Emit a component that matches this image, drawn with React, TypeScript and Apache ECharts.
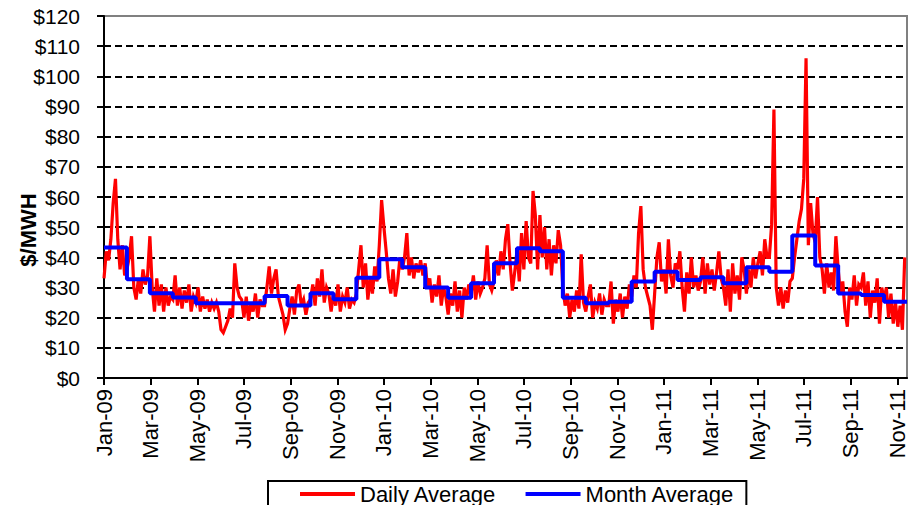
import React, { useEffect, useRef } from "react";
import * as echarts from "echarts";

// Month-start tick labels, one every 60 data points
const tickLabels = [
  "Jan-09", "Mar-09", "May-09", "Jul-09", "Sep-09", "Nov-09",
  "Jan-10", "Mar-10", "May-10", "Jul-10", "Sep-10", "Nov-10",
  "Jan-11", "Mar-11", "May-11", "Jul-11", "Sep-11", "Nov-11",
];
const tickStep = 60; // data points between two tick labels
const pointsPerMonth = 29.5; // data points in one month on the category scale
const samplesPerMonth = 10; // daily samples read per month

// Daily Average ($/MWh), 10 samples per month
const daily2009 = [
  33, 42, 39, 46, 58, 66, 46, 36, 44, 34,
  36, 40, 47, 30, 26, 33, 28, 36, 31, 34,
  47, 30, 22, 33, 24, 31, 22, 30, 24, 27,
  26, 34, 24, 30, 23, 29, 25, 31, 22, 27,
  25, 30, 22, 27, 23, 26, 22, 25, 23, 25,
  22, 16, 15, 17, 19, 23, 20, 38, 30, 27,
  26, 20, 27, 19, 25, 22, 28, 20, 26, 24,
  24, 30, 37, 28, 33, 36, 27, 24, 21, 16,
  18, 23, 27, 21, 29, 31, 24, 26, 21, 25,
  26, 31, 24, 33, 27, 36, 25, 30, 28, 22,
  28, 24, 31, 22, 27, 25, 30, 23, 26, 25,
  28, 36, 44, 30, 38, 26, 33, 28, 37, 32,
];
const daily2010 = [
  44, 59, 50, 42, 33, 28, 36, 27, 32, 40,
  36, 40, 48, 34, 40, 33, 38, 35, 39, 34,
  38, 30, 33, 25, 31, 27, 34, 24, 30, 27,
  21, 28, 24, 32, 22, 29, 20, 30, 26, 31,
  28, 34, 26, 32, 28, 30, 33, 44, 31, 29,
  32, 39, 34, 42, 36, 46, 51, 38, 29, 35,
  42, 32, 48, 36, 52, 40, 38, 62, 54, 36,
  54, 40, 50, 36, 46, 34, 44, 38, 49, 44,
  30, 24, 28, 20, 26, 22, 29, 23, 41, 25,
  22, 27, 31, 20, 25, 23, 28, 21, 26, 24,
  24, 32, 18, 26, 22, 28, 20, 27, 23, 31,
  27, 34, 30, 48, 57, 36, 30, 27, 24, 16,
];
const daily2011 = [
  28, 40, 45, 32, 36, 28, 46, 34, 30, 38,
  36, 42, 30, 22, 35, 28, 40, 30, 34, 29,
  32, 40, 28, 38, 31, 36, 29, 35, 42, 33,
  30, 24, 36, 22, 38, 28, 34, 26, 40, 36,
  28, 36, 30, 40, 33, 38, 42, 34, 46, 40,
  40, 51, 89, 30, 24, 30, 23, 29, 25, 32,
  33, 40, 46, 52, 56, 66, 106, 44, 58, 48,
  45, 60, 40, 36, 28, 38, 30, 35, 29, 47,
  36, 28, 32, 22, 17, 30, 26, 34, 24, 31,
  30, 35, 24, 32, 20, 29, 25, 33, 18, 30,
  26, 30, 20, 28, 18, 25, 17, 24, 16, 40,
];

// Month Average ($/MWh), Jan-09 .. Nov-11
const monthAvg2009 = [43.3, 32.7, 28.1, 26.7, 24.8, 24.8, 24.8, 27.2, 24.0, 28.1, 26.1, 33.2];
const monthAvg2010 = [39.4, 36.7, 30.0, 26.6, 31.4, 38.0, 43.0, 42.0, 26.6, 24.8, 25.3, 32.0];
const monthAvg2011 = [35.2, 32.5, 33.4, 31.4, 36.7, 35.2, 47.2, 37.3, 28.0, 27.5, 25.3];

const FONT = "'Liberation Sans', Arial, sans-serif";

export default function App() {
  const ref = useRef<HTMLDivElement>(null);

  useEffect(() => {
    document.body.style.margin = "0";
    if (!ref.current) return;
    const chart = echarts.init(ref.current, undefined, { renderer: "svg" });

    const daily = [...daily2009, ...daily2010, ...daily2011];
    const months = [...monthAvg2009, ...monthAvg2010, ...monthAvg2011];
    const xMax = months.length * pointsPerMonth;

    const dailyData = daily.map((v, i) => [(i * pointsPerMonth) / samplesPerMonth, v]);
    const monthData = months.map((v, m) => [m * pointsPerMonth, v]);
    monthData.push([xMax, months[months.length - 1]]);

    const tickValues = tickLabels.map((_, i) => i * tickStep);

    chart.setOption({
      animation: false,
      backgroundColor: "#fff",
      textStyle: { fontFamily: FONT },
      grid: {
        left: 104,
        right: 11,
        top: 16,
        bottom: 127,
        containLabel: false,
        outerBoundsMode: "none",
        show: true,
        borderColor: "#808080",
        borderWidth: 2,
      },
      xAxis: {
        type: "value",
        min: 0,
        max: xMax,
        interval: tickStep,
        axisLine: { show: true, onZero: false, lineStyle: { color: "#000", width: 2 } },
        axisTick: {
          show: true,
          length: 7,
          lineStyle: { color: "#000", width: 2 },
          customValues: tickValues,
        },
        axisLabel: {
          customValues: tickValues,
          rotate: 90,
          margin: 11,
          fontSize: 22,
          color: "#000",
          fontFamily: FONT,
          formatter: (v: number) => tickLabels[Math.round(v / tickStep)] ?? "",
        },
        splitLine: { show: false },
      },
      yAxis: {
        type: "value",
        min: 0,
        max: 120,
        interval: 10,
        axisLine: { show: true, lineStyle: { color: "#000", width: 2 } },
        axisTick: { show: true, length: 7, lineStyle: { color: "#000", width: 2 } },
        axisLabel: {
          margin: 24,
          fontSize: 21,
          color: "#000",
          fontFamily: FONT,
          formatter: (v: number) => "$" + v,
        },
        splitLine: {
          show: true,
          showMinLine: false,
          showMaxLine: false,
          lineStyle: { color: "#000", width: 1.8, type: [7, 4] },
        },
      },
      legend: {
        left: 268,
        top: 481,
        orient: "horizontal",
        padding: [2, 12, 12, 32],
        itemGap: 29,
        itemWidth: 55,
        itemHeight: 4,
        icon: "rect",
        borderColor: "#000",
        borderWidth: 2,
        textStyle: { fontSize: 22, color: "#000", fontFamily: FONT },
        data: ["Daily Average", "Month Average"],
      },
      graphic: [
        {
          type: "text",
          x: 28,
          y: 230,
          rotation: Math.PI / 2,
          style: {
            text: "$/MWH",
            font: `bold 22px ${FONT}`,
            fill: "#000",
            align: "center",
            verticalAlign: "middle",
          },
        },
      ],
      series: [
        {
          name: "Daily Average",
          type: "line",
          data: dailyData,
          showSymbol: false,
          symbol: "none",
          lineStyle: { color: "#FF0000", width: 3.2, join: "miter" },
          itemStyle: { color: "#FF0000" },
          z: 2,
        },
        {
          name: "Month Average",
          type: "line",
          data: monthData,
          step: "end",
          showSymbol: false,
          symbol: "none",
          lineStyle: { color: "#0000FF", width: 4 },
          itemStyle: { color: "#0000FF" },
          z: 3,
        },
      ],
    });

    return () => chart.dispose();
  }, []);

  return <div ref={ref} style={{ width: 918, height: 505 }} />;
}
